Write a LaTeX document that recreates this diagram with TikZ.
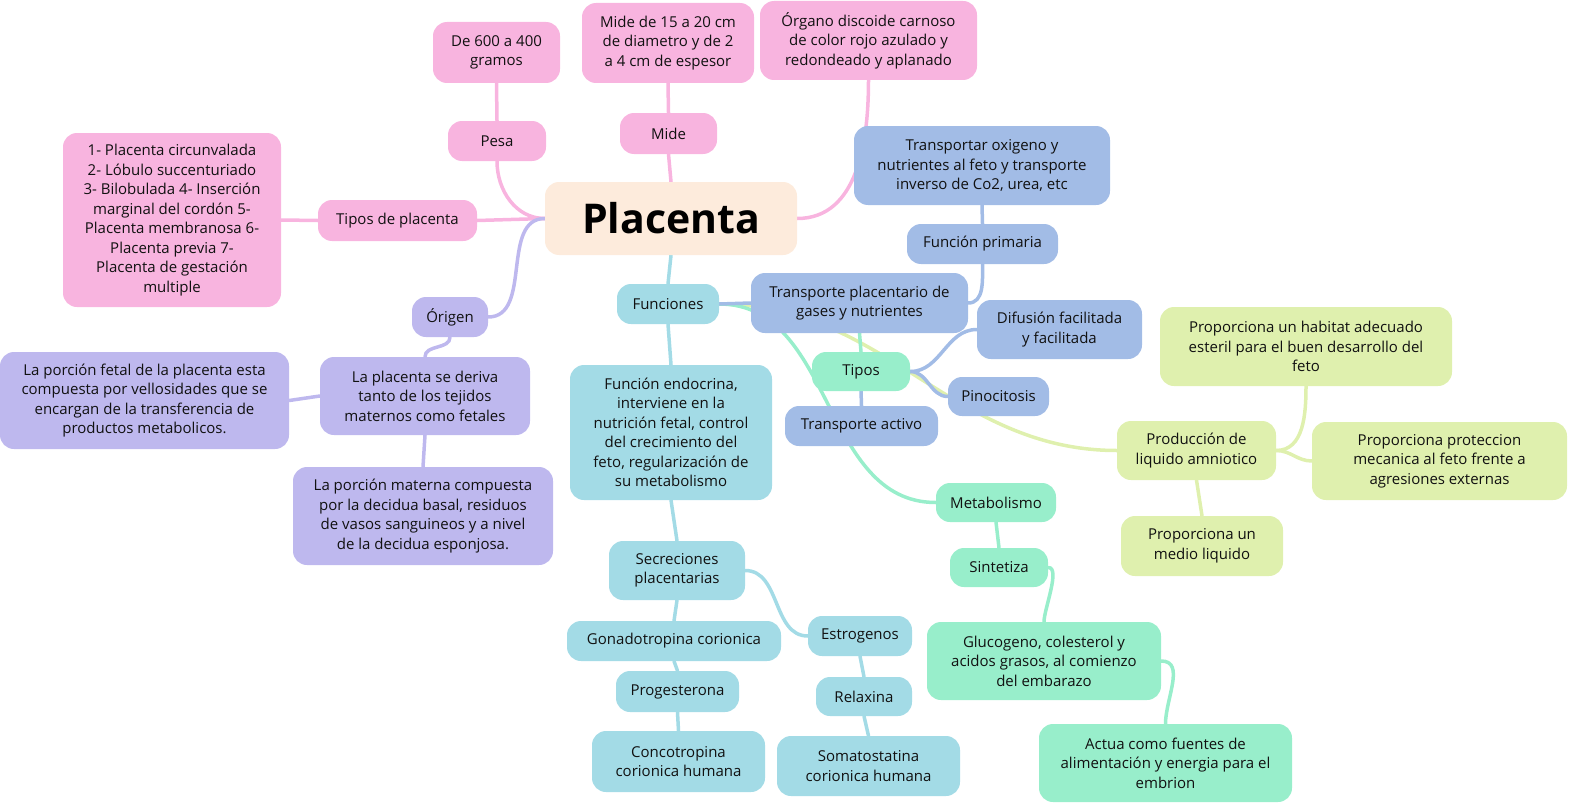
\documentclass[tikz,border=0pt]{standalone}
\usepackage{fontspec}
\setmainfont{Open Sans}
\usepackage{tikz}
\usetikzlibrary{backgrounds}

\definecolor{pinkc}{HTML}{F8B4DF}
\definecolor{peachc}{HTML}{FDEBDC}
\definecolor{purplec}{HTML}{BEB8EE}
\definecolor{cyanc}{HTML}{A3DBE6}
\definecolor{bluec}{HTML}{A2BCE6}
\definecolor{greenc}{HTML}{98EECB}
\definecolor{yellowc}{HTML}{DFF0AE}
\definecolor{inkc}{HTML}{111111}

\begin{document}
\begin{tikzpicture}[x=1pt, y=-1pt,
    box/.style={rectangle, rounded corners=14pt, align=center, inner sep=0pt,
        text=inkc, font=\fontsize{15}{19.5}\selectfont},
    sz/.style 2 args={minimum width=#1pt, minimum height=#2pt},
    link/.style={line width=3.5pt, line cap=round}]
    \useasboundingbox (0,0) rectangle (1577,808);

    % centro
    \node (placenta) [box, fill=peachc, sz={252}{73}, font=\fontsize{41}{48}\selectfont\bfseries, text=black] at (671,218.5) {Placenta};

    % rama rosa
    \node (pesa) [box, fill=pinkc, sz={98}{40}] at (497,141) {Pesa};
    \node (peso) [box, fill=pinkc, sz={127}{61}] at (496.5,52.5) {De 600 a 400\\gramos};
    \node (mide) [box, fill=pinkc, sz={97}{41}] at (668.5,133.5) {Mide};
    \node (medida) [box, fill=pinkc, sz={172}{80}] at (668,43) {Mide de 15 a 20 cm\\de diametro y de 2\\a 4 cm de espesor};
    \node (organo) [box, fill=pinkc, sz={217}{79}] at (868.5,40.5) {Órgano discoide carnoso\\de color rojo azulado y\\redondeado y aplanado};
    \node (tiposplac) [box, fill=pinkc, sz={159}{41}] at (397.5,220.5) {Tipos de placenta};
    \node (lista) [box, fill=pinkc, sz={218}{174}] at (172,220) {1- Placenta circunvalada\\2- Lóbulo succenturiado\\3- Bilobulada 4- Inserción\\marginal del cordón 5-\\Placenta membranosa 6-\\Placenta previa 7-\\Placenta de gestación\\multiple};

    % rama morada
    \node (origen) [box, fill=purplec, sz={76}{40}] at (450,317) {Órigen};
    \node (deriva) [box, fill=purplec, sz={210}{78}] at (425,396) {La placenta se deriva\\tanto de los tejidos\\maternos como fetales};
    \node (fetal) [box, fill=purplec, sz={289}{97}] at (144.5,400.5) {La porción fetal de la placenta esta\\compuesta por vellosidades que se\\encargan de la transferencia de\\productos metabolicos.};
    \node (materna) [box, fill=purplec, sz={260}{98}] at (423,516) {La porción materna compuesta\\por la decidua basal, residuos\\de vasos sanguineos y a nivel\\de la decidua esponjosa.};

    % rama funciones
    \node (funciones) [box, fill=cyanc, sz={102}{40}] at (668,304) {Funciones};
    \node (endocrina) [box, fill=cyanc, sz={202}{135}] at (671,432.5) {Función endocrina,\\interviene en la\\nutrición fetal, control\\del crecimiento del\\feto, regularización de\\su metabolismo};
    \node (secreciones) [box, fill=cyanc, sz={136}{59}] at (677,570.5) {Secreciones\\placentarias};
    \node (gonado) [box, fill=cyanc, sz={214}{40}] at (674,641) {Gonadotropina corionica};
    \node (progest) [box, fill=cyanc, sz={123}{41}] at (677.5,691.5) {Progesterona};
    \node (concotrop) [box, fill=cyanc, sz={173}{61}] at (678.5,761.5) {Concotropina\\corionica humana};
    \node (estrog) [box, fill=cyanc, sz={104}{40}] at (860,636) {Estrogenos};
    \node (relaxina) [box, fill=cyanc, sz={96}{39}] at (864,696.5) {Relaxina};
    \node (somato) [box, fill=cyanc, sz={183}{60}] at (868.5,766) {Somatostatina\\corionica humana};

    \node (transplac) [box, fill=bluec, sz={217}{60}] at (859.5,303) {Transporte placentario de\\gases y nutrientes};
    \node (primaria) [box, fill=bluec, sz={151}{40}] at (982.5,244) {Función primaria};
    \node (transportar) [box, fill=bluec, sz={256}{79}] at (982,165.5) {Transportar oxigeno y\\nutrientes al feto y transporte\\inverso de Co2, urea, etc};
    \node (tipos) [box, fill=greenc, sz={98}{39}] at (861,371.5) {Tipos};
    \node (difusion) [box, fill=bluec, sz={165}{59}] at (1059.5,329.5) {Difusión facilitada\\y facilitada};
    \node (pinocit) [box, fill=bluec, sz={101}{39}] at (998.5,396.5) {Pinocitosis};
    \node (activo) [box, fill=bluec, sz={153}{40}] at (861.5,426) {Transporte activo};

    \node (metab) [box, fill=greenc, sz={120}{39}] at (996,502.5) {Metabolismo};
    \node (sintetiza) [box, fill=greenc, sz={98}{39}] at (999,567.5) {Sintetiza};
    \node (glucogeno) [box, fill=greenc, sz={234}{78}] at (1044,661) {Glucogeno, colesterol y\\acidos grasos, al comienzo\\del embarazo};
    \node (actua) [box, fill=greenc, sz={253}{78}] at (1165.5,763) {Actua como fuentes de\\alimentación y energia para el\\embrion};

    \node (amnio) [box, fill=yellowc, sz={159}{59}] at (1196.5,450.5) {Producción de\\liquido amniotico};
    \node (habitat) [box, fill=yellowc, sz={292}{79}] at (1306,346.5) {Proporciona un habitat adecuado\\esteril para el buen desarrollo del\\feto};
    \node (proteccion) [box, fill=yellowc, sz={255}{78}] at (1439.5,461) {Proporciona proteccion\\mecanica al feto frente a\\agresiones externas};
    \node (medio) [box, fill=yellowc, sz={162}{60}] at (1202,546) {Proporciona un\\medio liquido};

    \begin{pgfonlayer}{background}
    % rosa
    \draw[link, pinkc] (placenta.west) to[out=180, in=-90] (pesa.south);
    \draw[link, pinkc] (pesa.north) -- (peso.south);
    \draw[link, pinkc] (placenta.north) -- (mide.south);
    \draw[link, pinkc] (mide.north) -- (medida.south);
    \draw[link, pinkc] (placenta.east) to[out=0, in=-90] (organo.south);
    \draw[link, pinkc] (placenta.west) -- (tiposplac.east);
    \draw[link, pinkc] (tiposplac.west) -- (lista.east);
    % morado
    \draw[link, purplec] (placenta.west) to[out=180, in=0] (origen.east);
    \draw[link, purplec] (origen.south) to[out=-90, in=90] (deriva.north);
    \draw[link, purplec] (deriva.west) -- (fetal.east);
    \draw[link, purplec] (deriva.south) -- (materna.north);
    % funciones
    \draw[link, cyanc] (placenta.south) -- (funciones.north);
    \draw[link, cyanc] (funciones.south) -- (endocrina.north);
    \draw[link, cyanc] (endocrina.south) -- (secreciones.north);
    \draw[link, cyanc] (secreciones.south) -- (gonado.north);
    \draw[link, cyanc] (gonado.south) -- (progest.north);
    \draw[link, cyanc] (progest.south) -- (concotrop.north);
    \draw[link, cyanc] (secreciones.east) to[out=0, in=180] (estrog.west);
    \draw[link, cyanc] (estrog.south) -- (relaxina.north);
    \draw[link, cyanc] (relaxina.south) -- (somato.north);
    \draw[link, yellowc] (funciones.east) to[out=0, in=180] (amnio.west);
    \draw[link, greenc] (funciones.east) to[out=0, in=180] (metab.west);
    \draw[link, bluec] (funciones.east) -- (transplac.west);
    \draw[link, bluec] (transplac.east) to[out=0, in=-90] (primaria.south);
    \draw[link, bluec] (primaria.north) -- (transportar.south);
    \draw[link, greenc] (transplac.south) -- (tipos.north);
    \draw[link, bluec] (tipos.east) to[out=0, in=180] (difusion.west);
    \draw[link, bluec] (tipos.east) to[out=0, in=180] (pinocit.west);
    \draw[link, bluec] (tipos.south) -- (activo.north);
    \draw[link, greenc] (metab.south) -- (sintetiza.north);
    \draw[link, greenc] (sintetiza.east) to[out=0, in=90, looseness=0.6] (glucogeno.north);
    \draw[link, greenc] (glucogeno.east) to[out=0, in=90] (actua.north);
    \draw[link, yellowc] (amnio.east) to[out=0, in=-90] (habitat.south);
    \draw[link, yellowc] (amnio.east) to[out=0, in=180] (proteccion.west);
    \draw[link, yellowc] (amnio.south) -- (medio.north);
    \end{pgfonlayer}
\end{tikzpicture}
\end{document}
